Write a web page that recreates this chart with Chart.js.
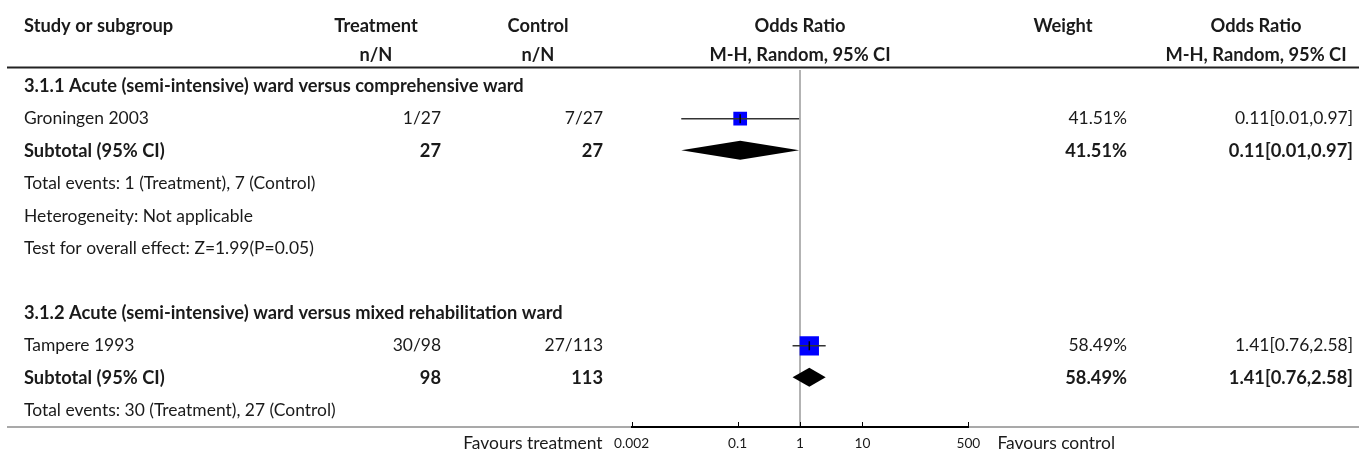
<!DOCTYPE html>
<html>
<head>
<meta charset="utf-8">
<script src="https://cdn.jsdelivr.net/npm/chart.js@4.4.1/dist/chart.umd.min.js"></script>
<style>
  html, body { margin: 0; padding: 0; background: #fff; }
  #wrap { width: 1359px; height: 453px; position: relative; }
</style>
</head>
<body>
<div id="wrap"><canvas id="forest" width="1359" height="453"></canvas></div>
<script>
// ---- data -------------------------------------------------------------
const studyNames    = ['Groningen 2003', 'Tampere 1993'];
const studyRows     = [1, 8];
const treatEvents   = [1, 30];
const treatTotal    = [27, 98];
const ctrlEvents    = [7, 27];
const ctrlTotal     = [27, 113];
const studyOR       = [0.11, 1.41];
const studyLow      = [0.0125, 0.76];
const studyHigh     = [0.97, 2.58];
const studyWeight   = [41.51, 58.49];

const groupTitles   = ['3.1.1 Acute (semi-intensive) ward versus comprehensive ward',
                       '3.1.2 Acute (semi-intensive) ward versus mixed rehabilitation ward'];
const groupRows     = [0, 7];

const subtotalRows  = [2, 9];
const subtotalTreat = [27, 98];
const subtotalCtrl  = [27, 113];
const subtotalOR    = [0.11, 1.41];
const subtotalLow   = [0.0125, 0.76];
const subtotalHigh  = [0.97, 2.58];
const subtotalWeight= [41.51, 58.49];

const noteRows      = [3, 4, 5, 10];
const noteTexts     = ['Total events: 1 (Treatment), 7 (Control)',
                       'Heterogeneity: Not applicable',
                       'Test for overall effect: Z=1.99(P=0.05)',
                       'Total events: 30 (Treatment), 27 (Control)'];

const axisTicks     = [0.002, 0.1, 1, 10, 500];

// ---- styling / layout ---------------------------------------------------
const INK  = '#1a1a1a';
const FONT = 'Lato, "Noto Sans", sans-serif';
const COL = {
  study: 24,
  treatRight: 441, treatHead: 376,
  ctrlRight: 603,  ctrlHead: 538,
  weightRight: 1127, weightHead: 1063,
  orRight: 1353,   orHead: 1256
};

// pick font sizes so that sample strings span the intended widths
const measureCtx = document.createElement('canvas').getContext('2d');
function sizeFor(str, bold, targetWidth) {
  measureCtx.font = (bold ? 'bold ' : '') + '100px ' + FONT;
  return 100 * targetWidth / measureCtx.measureText(str).width;
}
let FS_REG = 17, FS_BOLD = 17, FS_TICK = 13;

const fmt = v => v.toFixed(2);
const ciText = (o, l, h) => fmt(o) + '[' + fmt(l) + ',' + fmt(h) + ']';

function drawText(ctx, s, x, y, align, bold) {
  ctx.save();
  ctx.font = (bold ? 'bold ' + FS_BOLD : FS_REG) + 'px ' + FONT;
  ctx.fillStyle = INK;
  ctx.textAlign = align;
  ctx.textBaseline = 'middle';
  ctx.fillText(s, x, y);
  ctx.restore();
}

// rules, reference line and white background
const framePlugin = {
  id: 'frame',
  beforeDraw(chart) {
    const { ctx, chartArea: a, scales: { x } } = chart;
    ctx.save();
    ctx.fillStyle = '#fff';
    ctx.fillRect(0, 0, chart.width, chart.height);
    ctx.fillStyle = '#222';
    ctx.fillRect(7, a.top - 3.5, chart.width - 7, 2);
    ctx.fillStyle = '#555';
    ctx.fillRect(7, a.bottom - 0.5, chart.width - 7, 1);
    const x1 = x.getPixelForValue(1);
    ctx.strokeStyle = '#9a9a9a';
    ctx.lineWidth = 1.5;
    ctx.beginPath();
    ctx.moveTo(x1, a.top);
    ctx.lineTo(x1, a.bottom);
    ctx.stroke();
    ctx.restore();
  }
};

// pooled diamonds
const diamondPlugin = {
  id: 'diamonds',
  afterDatasetsDraw(chart) {
    const { ctx, scales: { x, y } } = chart;
    const half = 9.5;
    ctx.save();
    ctx.fillStyle = '#000';
    subtotalRows.forEach((r, i) => {
      const py = y.getPixelForValue(r) - 1;
      const xl = x.getPixelForValue(subtotalLow[i]);
      const xm = x.getPixelForValue(subtotalOR[i]);
      const xh = x.getPixelForValue(subtotalHigh[i]);
      ctx.beginPath();
      ctx.moveTo(xl, py);
      ctx.lineTo(xm, py - half);
      ctx.lineTo(xh, py);
      ctx.lineTo(xm, py + half);
      ctx.closePath();
      ctx.fill();
    });
    ctx.restore();
  }
};

// table text, axis tick marks and side captions
const tablePlugin = {
  id: 'table',
  afterDraw(chart) {
    const { ctx, chartArea: a, scales: { x, y } } = chart;
    const xc = (a.left + a.right) / 2;
    const h1 = a.top - 44, h2 = a.top - 15;

    drawText(ctx, 'Study or subgroup', COL.study, h1, 'left', true);
    drawText(ctx, 'Treatment', COL.treatHead, h1, 'center', true);
    drawText(ctx, 'n/N', COL.treatHead, h2, 'center', true);
    drawText(ctx, 'Control', COL.ctrlHead, h1, 'center', true);
    drawText(ctx, 'n/N', COL.ctrlHead, h2, 'center', true);
    drawText(ctx, 'Odds Ratio', xc, h1, 'center', true);
    drawText(ctx, 'M-H, Random, 95% CI', xc, h2, 'center', true);
    drawText(ctx, 'Weight', COL.weightHead, h1, 'center', true);
    drawText(ctx, 'Odds Ratio', COL.orHead, h1, 'center', true);
    drawText(ctx, 'M-H, Random, 95% CI', COL.orHead, h2, 'center', true);

    groupTitles.forEach((t, i) => drawText(ctx, t, COL.study, y.getPixelForValue(groupRows[i]), 'left', true));

    studyNames.forEach((n, i) => {
      const py = y.getPixelForValue(studyRows[i]);
      drawText(ctx, n, COL.study, py, 'left', false);
      drawText(ctx, treatEvents[i] + '/' + treatTotal[i], COL.treatRight, py, 'right', false);
      drawText(ctx, ctrlEvents[i] + '/' + ctrlTotal[i], COL.ctrlRight, py, 'right', false);
      drawText(ctx, fmt(studyWeight[i]) + '%', COL.weightRight, py, 'right', false);
      drawText(ctx, ciText(studyOR[i], studyLow[i], studyHigh[i]), COL.orRight, py, 'right', false);
    });

    subtotalRows.forEach((r, i) => {
      const py = y.getPixelForValue(r);
      drawText(ctx, 'Subtotal (95% CI)', COL.study, py, 'left', true);
      drawText(ctx, String(subtotalTreat[i]), COL.treatRight, py, 'right', true);
      drawText(ctx, String(subtotalCtrl[i]), COL.ctrlRight, py, 'right', true);
      drawText(ctx, fmt(subtotalWeight[i]) + '%', COL.weightRight, py, 'right', true);
      drawText(ctx, ciText(subtotalOR[i], subtotalLow[i], subtotalHigh[i]), COL.orRight, py, 'right', true);
    });

    noteRows.forEach((r, i) => drawText(ctx, noteTexts[i], COL.study, y.getPixelForValue(r), 'left', false));

    // short upward tick marks on the odds-ratio axis
    ctx.save();
    ctx.strokeStyle = '#000';
    ctx.lineWidth = 1;
    x.ticks.forEach(t => {
      const px = Math.round(x.getPixelForValue(t.value)) + 0.5;
      ctx.beginPath();
      ctx.moveTo(px, a.bottom - 5);
      ctx.lineTo(px, a.bottom);
      ctx.stroke();
    });
    ctx.restore();

    const ly = a.bottom + 16;
    drawText(ctx, 'Favours treatment', a.left - 29, ly, 'right', false);
    drawText(ctx, 'Favours control', a.right + 29, ly, 'left', false);
  }
};

function build() {
  FS_REG  = sizeFor('Total events: 30 (Treatment), 27 (Control)', false, 312);
  FS_BOLD = sizeFor('3.1.1 Acute (semi-intensive) ward versus comprehensive ward', true, 500);
  FS_TICK = sizeFor('0.002', false, 35);

  const ciLines = studyNames.map((n, i) => ({
    label: n + ' CI',
    showLine: true,
    data: [{ x: studyLow[i], y: studyRows[i] }, { x: studyHigh[i], y: studyRows[i] }],
    borderColor: '#333',
    borderWidth: 1.5,
    pointRadius: 0,
    order: 2
  }));

  const squares = {
    label: 'Study estimate',
    data: studyNames.map((n, i) => ({ x: studyOR[i], y: studyRows[i] })),
    pointStyle: 'rect',
    pointRadius: c => (studyWeight[c.dataIndex] * 0.33) / Math.SQRT2,
    backgroundColor: '#0000ff',
    borderWidth: 0,
    order: 3
  };

  const centreMarks = {
    label: 'Point estimate',
    data: studyNames.map((n, i) => ({ x: studyOR[i], y: studyRows[i] })),
    pointStyle: 'line',
    rotation: 90,
    pointRadius: 4.5,
    borderColor: '#000',
    borderWidth: 1.5,
    order: 1
  };

  new Chart(document.getElementById('forest'), {
    type: 'scatter',
    data: { datasets: [squares, ...ciLines, centreMarks] },
    options: {
      responsive: false,
      animation: false,
      devicePixelRatio: 1,
      layout: { padding: { left: 631.6, right: 390.6, top: 70, bottom: 0 } },
      plugins: { legend: { display: false }, tooltip: { enabled: false } },
      scales: {
        x: {
          type: 'logarithmic',
          min: 0.002,
          max: 500,
          position: 'bottom',
          afterBuildTicks: s => { s.ticks = axisTicks.map(v => ({ value: v })); },
          afterFit: s => { s.height = 26; },
          grid: { display: true, drawOnChartArea: false, drawTicks: false },
          border: { display: true, color: '#000', width: 2 },
          ticks: {
            autoSkip: false,
            maxRotation: 0,
            padding: 8,
            color: INK,
            font: { family: FONT, size: FS_TICK },
            callback: v => String(v)
          }
        },
        y: { type: 'linear', min: -0.5, max: 10.5, reverse: true, display: false }
      }
    },
    plugins: [framePlugin, diamondPlugin, tablePlugin]
  });
}

if (document.fonts && document.fonts.load) {
  Promise.all([
    document.fonts.load('17px Lato'),
    document.fonts.load('bold 17px Lato')
  ]).then(build, build);
} else {
  build();
}
</script>
</body>
</html>
